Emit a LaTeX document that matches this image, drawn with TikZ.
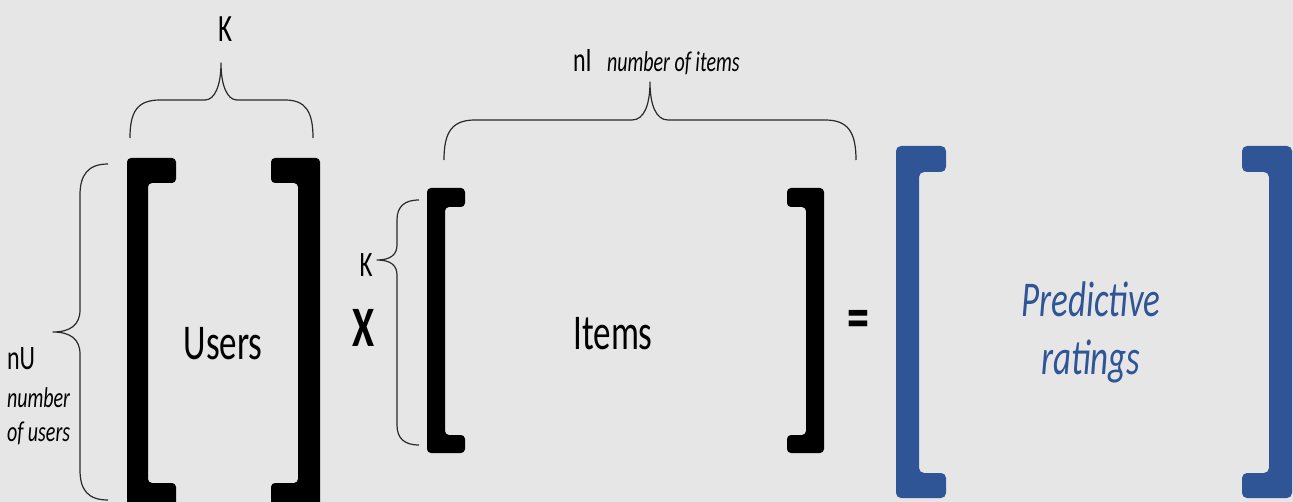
\documentclass[tikz,border=0pt]{standalone}
\usepackage{fontspec}
\setmainfont{Carlito}
\definecolor{bg}{HTML}{E6E6E6}
\definecolor{brblue}{HTML}{2F5597}
\definecolor{brace}{HTML}{2A2A2A}
\newcommand\vstr[1]{\scalebox{1}[1.43]{#1}}
\newcommand\fs[1]{\fontsize{#1}{#1}\selectfont}
\tikzset{
  lbl/.style={inner sep=0pt, outer sep=0pt},
  bracefill/.style={fill=black, rounded corners=4pt},
  bluefill/.style={fill=brblue, rounded corners=5pt},
  bracestroke/.style={draw=brace, line width=1.2pt, line join=round}
}
\begin{document}
\begin{tikzpicture}[x=1pt,y=-1pt]
\fill[bg] (0,0) rectangle (1293,502);
\useasboundingbox (0,0) rectangle (1293,502);

% Users brackets
\fill[bracefill] (127,158) -- (176,158) -- (176,183) -- (148,183) -- (148,483) -- (176,483) -- (176,508) -- (127,508) -- cycle;
\fill[bracefill] (320,158) -- (271,158) -- (271,183) -- (298,183) -- (298,483) -- (271,483) -- (271,508) -- (320,508) -- cycle;

% Items brackets
\fill[bracefill] (427,188) -- (465,188) -- (465,207) -- (445,207) -- (445,435) -- (465,435) -- (465,453) -- (427,453) -- cycle;
\fill[bracefill] (824,188) -- (787,188) -- (787,207) -- (806,207) -- (806,435) -- (787,435) -- (787,453) -- (824,453) -- cycle;

% Predictive brackets
\fill[bluefill] (896,146) -- (946,146) -- (946,172) -- (919,172) -- (919,473) -- (946,473) -- (946,498) -- (896,498) -- cycle;
\fill[bluefill] (1292,146) -- (1242,146) -- (1242,172) -- (1269,172) -- (1269,473) -- (1242,473) -- (1242,498) -- (1292,498) -- cycle;

% Braces
\draw[bracestroke] (130,138) .. controls (130,112) and (137,100) .. (160,100) -- (205,100) .. controls (215,100) and (221,85) .. (221,63) .. controls (221,85) and (227,100) .. (237,100) -- (285,100) .. controls (306,100) and (313,112) .. (313,138);
\draw[bracestroke] (108,164) .. controls (88,164) and (80,175) .. (80,195) -- (80,310) .. controls (80,325) and (70,332) .. (53,332) .. controls (70,332) and (80,339) .. (80,354) -- (80,470) .. controls (80,490) and (88,500) .. (108,500);
\draw[bracestroke] (419,200) .. controls (404,200) and (397,207) .. (397,220) -- (397,245) .. controls (397,255) and (390,260) .. (377,260) .. controls (390,260) and (397,265) .. (397,275) -- (397,425) .. controls (397,438) and (404,445) .. (419,445);
\draw[bracestroke] (444,160) .. controls (444,132) and (452,120) .. (475,120) -- (632,120) .. controls (644,120) and (650,105) .. (650,82) .. controls (650,105) and (656,120) .. (668,120) -- (825,120) .. controls (848,120) and (856,132) .. (856,160);

% Texts
\node[lbl, anchor=base] (users) at (223,360) {\vstr{\fs{35}Users}};
\node[lbl, anchor=base] (items) at (613,350) {\vstr{\fs{35}Items}};
\node[lbl, anchor=base, text=brblue] (pred1) at (1091,317) {\vstr{\fs{35}\itshape Predictive}};
\node[lbl, anchor=base, text=brblue] (pred2) at (1091,375) {\vstr{\fs{35}\itshape ratings}};
\node[lbl, anchor=base] (ktop) at (226,42) {\vstr{\fs{27}K}};
\node[lbl, anchor=base] (times) at (364,347) {\vstr{\fs{40}\bfseries X}};
\node[lbl, anchor=base] (eq) at (858,339) {\vstr{\fs{44}\bfseries =}};
\node[lbl, anchor=base] (ksmall) at (366,277) {\vstr{\fs{25}K}};
\node[lbl, anchor=base west] (ni) at (573,72) {\vstr{\fs{24}nI}};
\node[lbl, anchor=base west] (nitxt) at (607,72) {\vstr{\fs{20}\itshape number of items}};
\node[lbl, anchor=base west] (nu) at (7,370) {\vstr{\fs{24}nU}};
\node[lbl, anchor=base west] (nutxt1) at (7,407) {\vstr{\fs{20}\itshape number}};
\node[lbl, anchor=base west] (nutxt2) at (7,441) {\vstr{\fs{20}\itshape of users}};
\end{tikzpicture}
\end{document}
